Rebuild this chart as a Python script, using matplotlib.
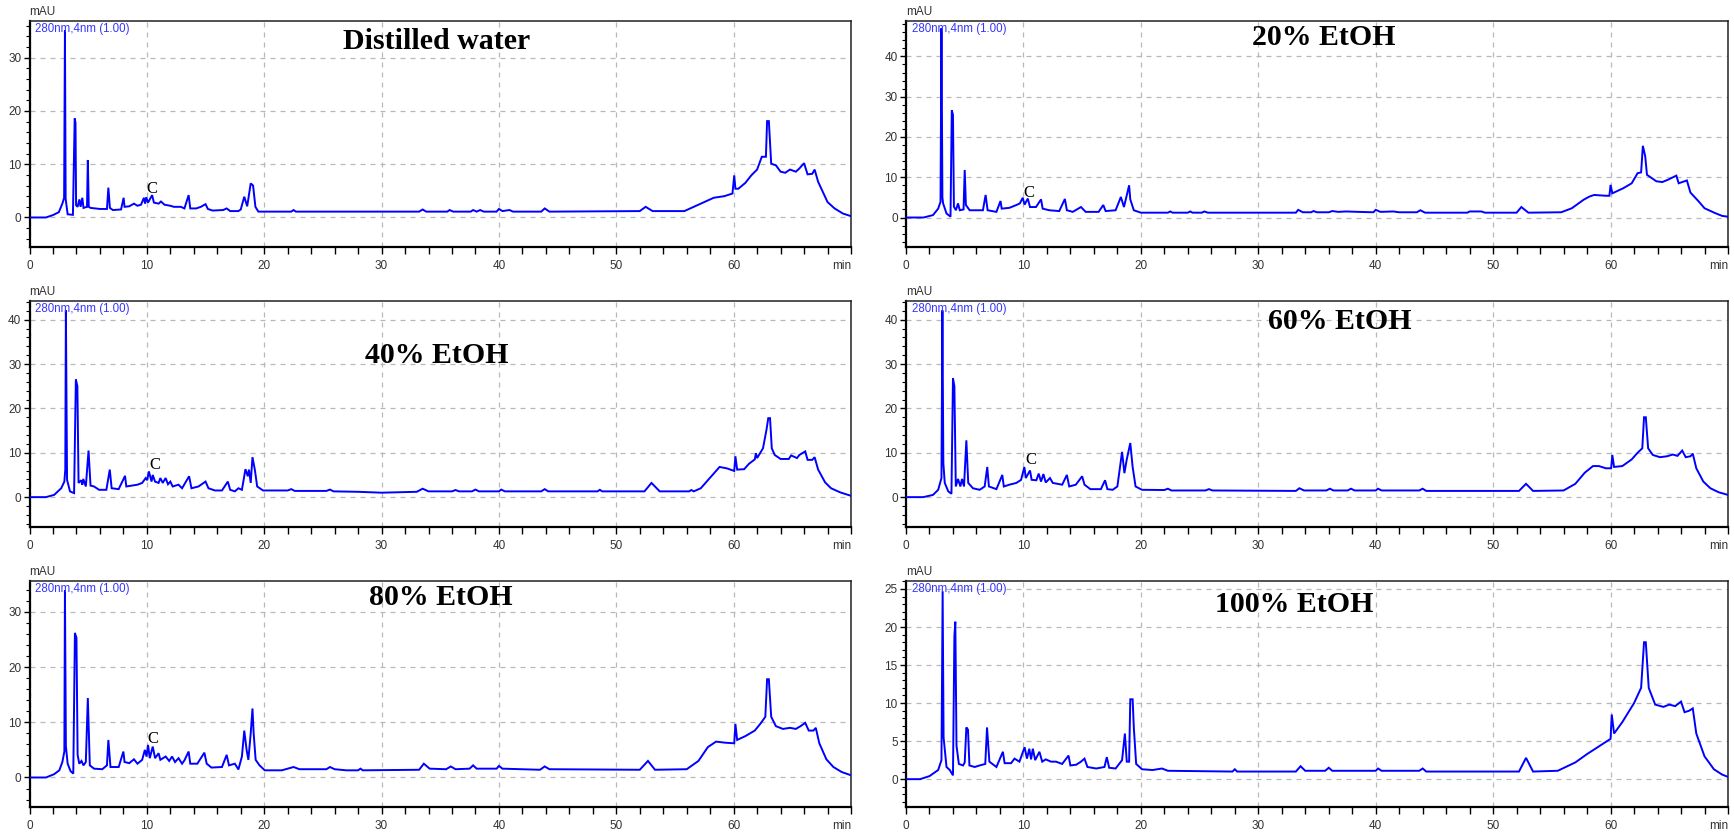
import numpy as np
import matplotlib
matplotlib.use("Agg")
import matplotlib.pyplot as plt
from matplotlib.ticker import MultipleLocator, FixedLocator, FixedFormatter

# ---------------- data (time [min], absorbance [mAU]) ----------------
titles = ["Distilled water", "20% EtOH", "40% EtOH", "60% EtOH", "80% EtOH", "100% EtOH"]
ylims = [(-5.6, 36.9), (-7.4, 48.8), (-6.8, 44.2), (-6.8, 44.2), (-5.4, 35.6), (-3.7, 26.05)]
ymajor = [10, 10, 10, 10, 10, 5]
yminor = [2, 2, 2, 2, 2, 1]
title_pos = [(0.496, 0.911), (0.508, 0.929), (0.496, 0.76), (0.528, 0.91), (0.501, 0.925), (0.472, 0.894)]
c_marks = [(10.45, 5.3), (10.5, 6.2), (10.7, 7.3), (10.65, 8.3), (10.5, 6.9), None]
x_ticks = [0, 10, 20, 30, 40, 50, 60, 70]
x_ticklabels = ["0", "10", "20", "30", "40", "50", "60", ""]
x_unit = "min"

trace_water = [
    (0, 0), (1.4, 0), (2.0, 0.45), (2.5, 1.0), (2.8, 2.6), (2.95, 3.7), (3.02, 35.2), (3.08, 3.5),
    (3.25, 0.6), (3.7, 0.5), (3.85, 18.6), (3.92, 17.8), (3.97, 2.3), (4.1, 2.0), (4.25, 3.4),
    (4.35, 2.0), (4.5, 3.7), (4.6, 1.8), (4.9, 2.0), (4.97, 10.8), (5.05, 2.0), (5.2, 1.8),
    (6.0, 1.6), (6.6, 1.6), (6.72, 5.6), (6.85, 1.8), (7.1, 1.4), (7.8, 1.5), (8.02, 3.7),
    (8.1, 2.0), (8.5, 2.1), (8.9, 2.6), (9.2, 2.2), (9.5, 2.4), (9.75, 3.7), (9.85, 2.6),
    (9.95, 3.8), (10.1, 2.8), (10.45, 4.2), (10.6, 2.8), (11.0, 2.6), (11.2, 3.0), (11.5, 2.4),
    (12.0, 2.2), (12.3, 2.0), (12.9, 2.0), (13.2, 1.7), (13.56, 4.2), (13.7, 1.7), (14.2, 1.7),
    (14.6, 2.0), (15.0, 2.5), (15.2, 1.6), (15.6, 1.3), (16.5, 1.4), (16.8, 1.7), (17.1, 1.2),
    (17.8, 1.2), (18.0, 1.5), (18.3, 3.9), (18.55, 2.1), (18.85, 6.4), (19.05, 6.0), (19.25, 2.0),
    (19.5, 1.1), (22.3, 1.1), (22.5, 1.4), (22.7, 1.1), (33.2, 1.1), (33.5, 1.5), (33.8, 1.1),
    (35.6, 1.1), (35.8, 1.4), (36.1, 1.1), (37.6, 1.1), (37.8, 1.4), (38.1, 1.1), (38.4, 1.4),
    (38.7, 1.1), (39.8, 1.1), (40.0, 1.6), (40.3, 1.2), (40.9, 1.4), (41.2, 1.1), (43.6, 1.1),
    (43.9, 1.7), (44.3, 1.1), (52.0, 1.2), (52.5, 2.0), (53.1, 1.2), (55.8, 1.2), (56.6, 2.0),
    (57.5, 2.9), (58.3, 3.7), (59.2, 4.0), (59.9, 4.5), (60.05, 7.9), (60.15, 5.4), (60.4, 5.4),
    (61.0, 6.5), (61.5, 7.9), (62.0, 9.0), (62.4, 11.4), (62.75, 11.4), (62.85, 18.1), (63.0, 18.1),
    (63.2, 10.1), (63.6, 9.8), (64.0, 8.6), (64.4, 8.4), (64.8, 9.0), (65.3, 8.6), (65.6, 9.2),
    (66.0, 10.2), (66.3, 8.1), (66.7, 8.2), (66.9, 9.0), (67.2, 6.7), (67.6, 4.8), (68.0, 2.9),
    (68.6, 1.7), (69.3, 0.75), (70.0, 0.25),
]

trace_etoh20 = [
    (0, 0), (1.5, 0), (2.3, 0.6), (2.74, 2.2), (2.94, 3.9), (3.02, 47.0), (3.1, 5.0), (3.16, 3.5),
    (3.45, 1.0), (3.79, 0.2), (3.9, 26.6), (4.0, 25.5), (4.08, 2.7), (4.25, 1.8), (4.43, 3.5),
    (4.58, 1.8), (4.9, 2.0), (5.0, 11.8), (5.1, 3.1), (5.42, 1.8), (6.55, 1.8), (6.78, 5.6),
    (6.95, 1.8), (7.7, 1.4), (8.05, 4.1), (8.15, 2.2), (8.8, 2.4), (9.4, 3.1), (9.7, 3.5),
    (9.94, 4.9), (10.1, 3.2), (10.37, 4.7), (10.56, 2.6), (11.07, 2.6), (11.5, 4.5), (11.64, 2.2),
    (12.2, 1.8), (13.05, 1.6), (13.53, 4.6), (13.7, 1.8), (14.2, 1.4), (14.9, 2.6), (15.3, 1.4),
    (16.4, 1.4), (16.8, 3.1), (17.0, 1.6), (17.85, 1.8), (18.3, 5.1), (18.56, 2.6), (18.84, 6.0),
    (19.0, 8.0), (19.1, 4.5), (19.4, 1.8), (20.0, 1.2), (22.3, 1.2), (22.5, 1.5), (22.7, 1.2),
    (24.0, 1.2), (24.2, 1.5), (24.4, 1.2), (25.2, 1.2), (25.4, 1.5), (25.7, 1.2), (33.2, 1.2),
    (33.4, 1.9), (33.8, 1.3), (34.5, 1.3), (34.7, 1.6), (35.0, 1.3), (36.0, 1.3), (36.3, 1.6),
    (36.8, 1.4), (37.5, 1.5), (38.5, 1.4), (39.8, 1.3), (40.0, 1.9), (40.4, 1.4), (41.5, 1.5),
    (42.0, 1.3), (43.5, 1.3), (43.8, 1.8), (44.2, 1.2), (47.8, 1.2), (48.0, 1.5), (49.0, 1.5),
    (49.3, 1.2), (52.0, 1.2), (52.4, 2.6), (53.0, 1.2), (55.8, 1.3), (56.7, 2.3), (57.7, 4.4),
    (58.2, 5.2), (58.6, 5.6), (59.6, 5.4), (59.9, 5.4), (60.0, 8.1), (60.15, 6.0), (61.1, 7.3),
    (61.8, 8.5), (62.3, 11.0), (62.6, 11.2), (62.75, 17.8), (62.95, 15.2), (63.1, 10.6),
    (63.9, 9.0), (64.4, 8.8), (64.9, 9.4), (65.6, 10.4), (65.8, 8.5), (66.3, 9.0), (66.5, 9.2),
    (66.8, 6.2), (67.5, 4.0), (68.0, 2.3), (68.9, 1.1), (69.5, 0.4), (70.0, 0.2),
]

trace_etoh40 = [
    (0, 0), (1.4, 0), (2.1, 0.5), (2.7, 2.0), (2.97, 3.5), (3.05, 6.2), (3.1, 42.1), (3.2, 3.9),
    (3.45, 1.3), (3.8, 0.9), (3.95, 26.5), (4.08, 25.0), (4.18, 3.2), (4.4, 3.8), (4.5, 2.8),
    (4.58, 4.1), (4.8, 2.4), (5.03, 10.5), (5.2, 2.6), (5.5, 2.4), (5.93, 1.65), (6.55, 1.65),
    (6.84, 6.2), (7.0, 2.0), (7.6, 1.8), (8.14, 4.8), (8.25, 2.4), (8.75, 2.6), (9.2, 2.8),
    (9.6, 3.2), (9.9, 4.3), (10.03, 3.8), (10.17, 5.8), (10.4, 3.5), (10.5, 5.0), (10.7, 3.5),
    (11.0, 3.2), (11.15, 4.3), (11.35, 3.2), (11.6, 4.3), (11.8, 2.9), (12.0, 3.5), (12.2, 2.4),
    (12.7, 2.8), (13.0, 2.0), (13.6, 4.7), (13.8, 2.0), (14.4, 2.4), (15.0, 3.5), (15.25, 2.0),
    (15.8, 1.5), (16.4, 1.5), (16.9, 3.5), (17.1, 1.65), (17.5, 1.3), (17.8, 2.0), (18.1, 1.65),
    (18.4, 6.3), (18.6, 4.7), (18.7, 6.2), (18.85, 3.2), (19.0, 9.0), (19.2, 6.2), (19.4, 2.4),
    (19.9, 1.5), (22.0, 1.5), (22.3, 1.8), (22.6, 1.4), (25.3, 1.4), (25.6, 1.7), (25.9, 1.3),
    (28.0, 1.2), (30.0, 1.0), (33.0, 1.2), (33.5, 1.9), (34.0, 1.3), (36.0, 1.3), (36.3, 1.6),
    (36.6, 1.3), (37.7, 1.3), (38.0, 1.7), (38.3, 1.3), (40.0, 1.3), (40.2, 1.7), (40.5, 1.3),
    (43.6, 1.3), (43.9, 1.8), (44.2, 1.3), (48.4, 1.3), (48.6, 1.65), (48.8, 1.3), (52.4, 1.3),
    (53.0, 3.2), (53.7, 1.3), (56.2, 1.3), (56.4, 1.6), (56.6, 1.3), (57.2, 2.0), (58.1, 4.7),
    (58.6, 6.2), (58.8, 6.8), (59.4, 6.5), (60.05, 5.9), (60.15, 9.2), (60.3, 6.2), (60.9, 6.3),
    (61.3, 7.5), (61.8, 8.5), (61.9, 9.9), (62.0, 8.8), (62.5, 11.0), (62.8, 15.2), (62.95, 17.8),
    (63.1, 17.8), (63.25, 11.0), (63.5, 9.5), (64.0, 8.6), (64.7, 8.6), (64.9, 9.4), (65.4, 8.8),
    (65.6, 9.5), (66.1, 10.3), (66.3, 8.4), (66.7, 8.4), (66.9, 9.0), (67.2, 6.2), (67.8, 3.3),
    (68.3, 2.0), (69.1, 1.05), (70.0, 0.3),
]

trace_etoh60 = [
    (0, 0), (1.47, 0), (2.3, 0.5), (2.74, 1.65), (3.02, 4.3), (3.1, 42.1), (3.18, 7.7), (3.3, 3.2),
    (3.6, 1.3), (3.87, 0.75), (4.0, 26.8), (4.12, 25.0), (4.24, 2.4), (4.43, 4.1), (4.63, 2.4),
    (4.77, 4.1), (4.94, 2.4), (5.14, 12.8), (5.3, 3.2), (5.7, 2.0), (6.27, 1.65), (6.7, 2.4),
    (6.92, 6.8), (7.06, 2.4), (7.7, 1.8), (8.2, 5.0), (8.33, 2.4), (8.8, 2.8), (9.4, 3.2),
    (9.8, 3.9), (10.08, 6.8), (10.2, 4.3), (10.56, 6.0), (10.7, 3.9), (11.1, 3.8), (11.3, 5.3),
    (11.5, 3.5), (11.7, 5.2), (11.9, 3.3), (12.26, 4.3), (12.5, 3.2), (12.9, 3.0), (13.3, 2.8),
    (13.7, 5.0), (13.9, 2.4), (14.46, 2.8), (15.0, 4.7), (15.2, 2.8), (15.7, 1.8), (16.6, 1.8),
    (16.95, 3.8), (17.15, 1.8), (17.6, 1.65), (18.0, 2.4), (18.4, 10.2), (18.6, 5.4), (18.8, 8.5),
    (19.1, 12.2), (19.3, 6.8), (19.55, 2.4), (20.1, 1.65), (22.0, 1.6), (22.3, 1.9), (22.6, 1.5),
    (25.5, 1.5), (25.8, 1.8), (26.1, 1.5), (33.2, 1.4), (33.5, 2.0), (33.9, 1.5), (35.8, 1.5),
    (36.1, 1.9), (36.4, 1.5), (37.6, 1.5), (37.9, 1.9), (38.2, 1.5), (40.0, 1.5), (40.2, 1.9),
    (40.5, 1.5), (43.7, 1.5), (44.0, 1.9), (44.3, 1.4), (52.2, 1.4), (52.8, 3.0), (53.4, 1.4),
    (56.0, 1.5), (57.0, 3.0), (57.8, 5.5), (58.5, 7.0), (59.0, 7.0), (59.6, 6.5), (60.05, 6.5),
    (60.15, 9.5), (60.3, 6.8), (61.0, 7.0), (61.8, 8.5), (62.3, 10.0), (62.7, 11.0), (62.85, 18.0),
    (63.0, 18.0), (63.2, 11.0), (63.6, 9.5), (64.2, 9.0), (64.8, 9.2), (65.3, 9.6), (65.7, 9.3),
    (66.1, 10.5), (66.4, 9.0), (66.8, 9.2), (67.0, 9.8), (67.3, 6.5), (67.9, 3.5), (68.5, 2.0),
    (69.2, 1.1), (70.0, 0.5),
]

trace_etoh80 = [
    (0, 0), (1.4, 0), (2.1, 0.6), (2.54, 1.3), (2.8, 2.8), (2.97, 4.7), (3.02, 33.9), (3.1, 5.7),
    (3.25, 2.5), (3.5, 1.15), (3.73, 0.7), (3.87, 26.2), (4.0, 25.3), (4.1, 4.1), (4.24, 2.5),
    (4.43, 3.0), (4.6, 2.2), (4.8, 2.8), (4.97, 14.4), (5.14, 2.2), (5.5, 1.6), (6.2, 1.5),
    (6.6, 2.2), (6.72, 6.8), (6.9, 1.9), (7.6, 1.9), (8.0, 4.7), (8.1, 2.8), (8.5, 2.6),
    (8.9, 3.3), (9.2, 2.5), (9.6, 3.2), (9.83, 5.0), (9.97, 3.8), (10.1, 5.9), (10.25, 3.5),
    (10.5, 5.6), (10.7, 3.5), (11.0, 4.4), (11.15, 3.2), (11.6, 3.8), (11.9, 3.0), (12.15, 3.8),
    (12.4, 2.8), (12.7, 3.5), (13.0, 2.5), (13.2, 3.1), (13.56, 4.7), (13.7, 2.5), (14.3, 2.5),
    (14.9, 4.5), (15.1, 2.5), (15.5, 1.8), (16.4, 1.9), (16.8, 4.1), (17.0, 2.2), (17.5, 2.5),
    (17.8, 1.45), (18.1, 3.8), (18.3, 8.5), (18.5, 5.0), (18.65, 3.2), (18.85, 8.0), (19.0, 12.5),
    (19.1, 8.0), (19.27, 3.2), (19.6, 2.2), (20.05, 1.3), (21.5, 1.3), (22.0, 1.6), (22.5, 1.9),
    (23.0, 1.5), (25.3, 1.5), (25.6, 1.9), (26.0, 1.5), (27.0, 1.3), (28.0, 1.3), (28.2, 1.6),
    (28.4, 1.3), (33.2, 1.4), (33.6, 2.5), (34.1, 1.6), (35.5, 1.5), (35.9, 2.0), (36.3, 1.5),
    (37.5, 1.6), (37.8, 2.2), (38.1, 1.6), (39.8, 1.6), (40.0, 2.1), (40.3, 1.6), (43.5, 1.4),
    (43.9, 2.0), (44.3, 1.5), (52.0, 1.4), (52.7, 3.0), (53.3, 1.4), (56.0, 1.5), (57.0, 3.0),
    (57.8, 5.5), (58.5, 6.5), (59.3, 6.3), (60.05, 6.2), (60.15, 9.7), (60.3, 6.8), (61.0, 7.5),
    (61.8, 8.5), (62.3, 9.8), (62.7, 11.0), (62.85, 17.8), (63.0, 17.8), (63.2, 11.0),
    (63.6, 9.3), (64.2, 8.8), (64.8, 9.0), (65.3, 8.8), (65.7, 9.3), (66.1, 9.9), (66.4, 8.5),
    (66.8, 8.5), (67.0, 9.0), (67.3, 6.2), (67.9, 3.3), (68.5, 1.9), (69.2, 1.0), (70.0, 0.4),
]

trace_etoh100 = [
    (0, 0), (1.2, 0), (2.0, 0.4), (2.74, 1.2), (3.02, 2.5), (3.12, 24.7), (3.2, 5.5), (3.45, 1.6),
    (3.73, 1.2), (4.0, 0.5), (4.12, 18.8), (4.2, 20.7), (4.3, 4.4), (4.5, 2.0), (4.86, 1.8),
    (5.0, 2.2), (5.14, 6.8), (5.28, 6.5), (5.4, 1.8), (5.85, 1.6), (6.27, 1.8), (6.75, 2.0),
    (6.9, 6.8), (7.1, 2.3), (7.7, 1.6), (8.25, 3.6), (8.4, 2.1), (8.95, 2.1), (9.24, 2.7),
    (9.66, 2.3), (10.1, 4.2), (10.3, 2.7), (10.5, 4.0), (10.65, 2.6), (10.8, 4.0), (11.0, 2.5),
    (11.36, 3.6), (11.6, 2.3), (11.9, 2.6), (12.35, 2.3), (12.77, 2.3), (13.3, 2.0), (13.84, 3.1),
    (14.0, 1.8), (14.5, 1.9), (14.9, 2.3), (15.2, 2.7), (15.45, 1.6), (16.2, 1.4), (16.9, 1.6),
    (17.1, 2.9), (17.3, 1.5), (17.85, 1.4), (18.4, 2.5), (18.64, 6.0), (18.8, 2.3), (19.0, 2.3),
    (19.1, 10.5), (19.3, 10.5), (19.4, 6.8), (19.6, 2.0), (20.1, 1.3), (21.0, 1.2), (21.8, 1.4),
    (22.3, 1.1), (27.8, 1.0), (28.0, 1.3), (28.2, 1.0), (33.2, 1.0), (33.6, 1.7), (34.0, 1.1),
    (35.7, 1.1), (36.0, 1.5), (36.3, 1.1), (40.0, 1.1), (40.2, 1.4), (40.5, 1.1), (43.7, 1.1),
    (44.0, 1.4), (44.3, 1.0), (52.2, 1.0), (52.8, 2.8), (53.4, 1.0), (55.5, 1.1), (57.0, 2.2),
    (58.0, 3.3), (59.0, 4.3), (60.0, 5.3), (60.1, 8.5), (60.3, 6.0), (61.0, 7.5), (62.0, 10.0),
    (62.6, 12.0), (62.85, 18.0), (63.0, 18.0), (63.25, 12.0), (63.8, 9.8), (64.5, 9.5),
    (65.0, 9.8), (65.5, 9.6), (66.0, 10.2), (66.3, 8.8), (66.7, 9.0), (67.0, 9.3), (67.3, 6.0),
    (68.0, 3.0), (68.8, 1.3), (69.5, 0.6), (70.0, 0.3),
]

traces = [trace_water, trace_etoh20, trace_etoh40, trace_etoh60, trace_etoh80, trace_etoh100]

# ---------------- layout ----------------
W, H = 1734, 833
fig = plt.figure(figsize=(W / 100, H / 100), dpi=100)
fig.patch.set_facecolor("white")

col_x = [29.5, 906]
col_w = [821.5, 822]
row_top = [21, 301, 581]
row_h = 226.3

label_color = "#333333"
line_color = "#0000ff"

for i, tr in enumerate(traces):
    r, c = divmod(i, 2)
    left = col_x[c] / W
    bottom = 1 - (row_top[r] + row_h) / H
    ax = fig.add_axes([left, bottom, col_w[c] / W, row_h / H])
    arr = np.array(tr)
    ax.plot(arr[:, 0], arr[:, 1], color=line_color, lw=1.4, solid_joinstyle="miter", zorder=3)
    ax.set_xlim(0, 70)
    ax.set_ylim(*ylims[i])

    ax.xaxis.set_major_locator(FixedLocator(x_ticks))
    ax.xaxis.set_major_formatter(FixedFormatter(x_ticklabels))
    ax.xaxis.set_minor_locator(MultipleLocator(2))
    ax.yaxis.set_major_locator(MultipleLocator(ymajor[i]))
    ax.yaxis.set_minor_locator(MultipleLocator(yminor[i]))

    ax.grid(True, which="major", color="#b8b8b8", linestyle=(0, (4, 4)), linewidth=0.9, zorder=0)
    ax.tick_params(axis="both", which="both", direction="out", colors="black",
                   labelcolor=label_color, labelsize=8.5)
    ax.tick_params(axis="x", which="major", length=5, width=1.0, pad=4)
    ax.tick_params(axis="x", which="minor", length=5, width=1.0)
    ax.tick_params(axis="y", which="major", length=4, width=1.0, pad=2)
    ax.tick_params(axis="y", which="minor", length=3, width=0.8)
    for lab in ax.get_xticklabels() + ax.get_yticklabels():
        lab.set_fontfamily("Liberation Sans")

    # unit label sits where the last x tick label would be, right-aligned to the axis end
    ax.annotate(x_unit, xy=(70, 0), xycoords=("data", "axes fraction"),
                xytext=(0, -9), textcoords="offset points", ha="right", va="top",
                color=label_color, fontsize=8.5, family="Liberation Sans", annotation_clip=False)

    for side in ["top", "right"]:
        ax.spines[side].set_linewidth(1.1)
        ax.spines[side].set_color("#222222")
    for side in ["left", "bottom"]:
        ax.spines[side].set_linewidth(1.6)
        ax.spines[side].set_color("black")

    ax.text(0.007, 0.993, "280nm,4nm (1.00)", transform=ax.transAxes, ha="left", va="top",
            color="#3535ff", fontsize=8.3, family="Liberation Sans", zorder=4)
    ax.text(0.0, 1.012, "mAU", transform=ax.transAxes, ha="left", va="bottom",
            color=label_color, fontsize=8.5, family="Liberation Sans")
    tx, ty = title_pos[i]
    ax.text(tx, ty, titles[i], transform=ax.transAxes, ha="center", va="center",
            fontsize=21.5, fontweight="bold", family="Liberation Serif", color="black", zorder=5)
    if c_marks[i] is not None:
        cx, cy = c_marks[i]
        ax.text(cx, cy, "C", ha="center", va="center", fontsize=12,
                family="Liberation Serif", color="black", zorder=5)

fig.savefig("out.png", dpi=100, facecolor="white")
